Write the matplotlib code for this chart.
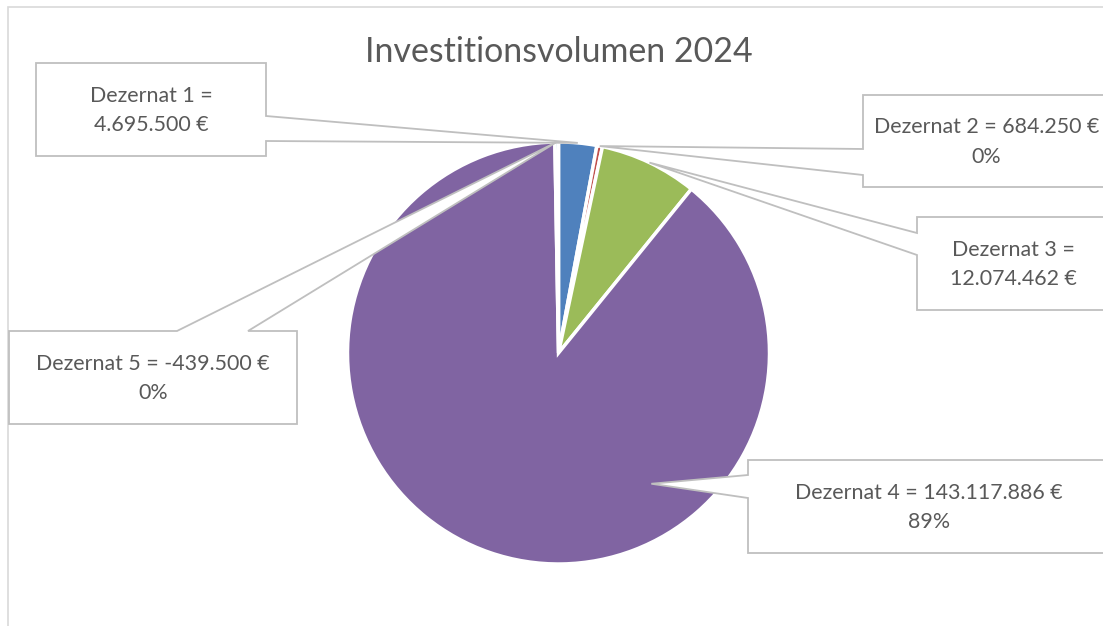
import numpy as np
import matplotlib
matplotlib.use("Agg")
import matplotlib.pyplot as plt
from matplotlib.patches import Polygon

plt.rcParams['font.family'] = ['Lato', 'DejaVu Sans']

# data
categories = ["Dezernat 1", "Dezernat 2", "Dezernat 3", "Dezernat 4", "Dezernat 5"]
values = [4695500, 684250, 12074462, 143117886, -439500]
show_pct = [False, True, False, True, True]
wrap_label = [True, False, True, False, False]
colors = ["#4F81BD", "#C0504D", "#9BBB59", "#8064A2", "#4BACC6"]

W, H = 1103, 626
fig = plt.figure(figsize=(W / 100, H / 100), dpi=100)
ax = fig.add_axes([0, 0, 1, 1])

# chart area border (only left and top visible)
ax.plot([8, 8, W + 5], [H + 5, 7, 7], color="#D9D9D9", lw=1.2, solid_joinstyle="miter")

cx, cy, r = 558.5, 353, 211
sizes = np.abs(values)
wedges, _ = ax.pie(sizes, colors=colors, startangle=-90, counterclock=True,
                   center=(cx, cy), radius=r, frame=True,
                   wedgeprops=dict(edgecolor="white", linewidth=2.5))
ax.set_xlim(0, W)
ax.set_ylim(H, 0)
ax.set_aspect("equal")
ax.axis("off")

ax.text(cx, 52, "Investitionsvolumen 2024", ha="center", va="center",
        fontsize=24.4, color="#595959")

total = sizes.sum()

def fmt(v):
    return f"{v:,.0f}".replace(",", ".") + " €"

labels = []
for name, v, p, wr in zip(categories, values, show_pct, wrap_label):
    sep = " =\n" if wr else " = "
    s = name + sep + fmt(v)
    if p:
        s += "\n" + f"{abs(v) / total * 100:.0f}%"
    labels.append(s)

# callout boxes: (x0, y0, x1, y1, side, base_a, base_b)
boxes = [
    (36, 63, 266, 156, "right", 116, 141),
    (863, 95, 1110, 187, "left", 149, 175),
    (917, 217, 1110, 310, "left", 233, 255),
    (748, 460, 1110, 553, "left", 475, 498),
    (9, 331, 297, 424, "top", 177, 248),
]
# where the pointer touches the slice: (fraction along wedge, fraction of radius)
tips = [(0.5, 1.0), (0.5, 1.0), (0.5, 1.0), (0.33, 0.76), (0.5, 1.0)]

for w, lab, (x0, y0, x1, y1, side, a, b), (tf, rf) in zip(wedges, labels, boxes, tips):
    ang = np.deg2rad(w.theta1 + tf * (w.theta2 - w.theta1))
    tx, ty = cx + rf * r * np.cos(ang), cy + rf * r * np.sin(ang)
    if side == "right":
        pts = [(x0, y0), (x1, y0), (x1, a), (tx, ty), (x1, b), (x1, y1), (x0, y1)]
    elif side == "left":
        pts = [(x0, y0), (x1, y0), (x1, y1), (x0, y1), (x0, b), (tx, ty), (x0, a)]
    else:
        pts = [(x0, y0), (a, y0), (tx, ty), (b, y0), (x1, y0), (x1, y1), (x0, y1)]
    ax.add_patch(Polygon(pts, closed=True, facecolor="white", edgecolor="#BFBFBF",
                         lw=1.3, joinstyle="miter", zorder=5))
    ax.text((x0 + x1) / 2, (y0 + y1) / 2 + 1, lab, ha="center", va="center",
            fontsize=15.4, color="#595959", linespacing=1.6, zorder=6)

fig.savefig("out.png", dpi=100)
